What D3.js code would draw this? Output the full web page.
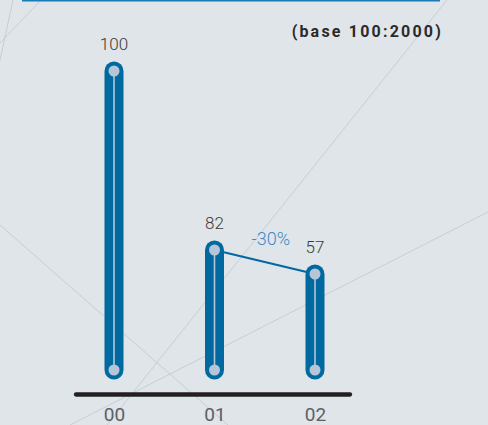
<!DOCTYPE html>
<html>
<head>
<meta charset="utf-8">
<script src="https://cdn.jsdelivr.net/npm/d3@7/dist/d3.min.js"></script>
<style>
  html, body { margin: 0; padding: 0; background: #e0e5e9; }
  svg { display: block; }
</style>
</head>
<body>
<script>
// ---- data ----
const categories = ["00", "01", "02"];
const values = [100, 82, 57];
const changeLabel = "-30%";
const baseNote = "(base 100:2000)";

const W = 488, H = 425;
const svg = d3.select("body").append("svg").attr("width", W).attr("height", H);

svg.append("rect").attr("width", W).attr("height", H).attr("fill", "#e0e5e9");

// decorative background lines
const deco = [
  [13, 0, 0, 60], [41, 0, 0, 43],
  [447, 0, 107, 425],
  [0, 225, 228, 425],
  [70, 425, 488, 212]
];
svg.append("g").selectAll("line").data(deco).join("line")
  .attr("x1", d => d[0]).attr("y1", d => d[1])
  .attr("x2", d => d[2]).attr("y2", d => d[3])
  .attr("stroke", "#c6cdd8").attr("stroke-width", 1);

// top blue rule
svg.append("rect").attr("x", 22).attr("y", -2).attr("width", 418).attr("height", 3.5)
  .attr("fill", "#1b7db8");

// base note
svg.append("text").attr("x", 443).attr("y", 37).attr("text-anchor", "end")
  .attr("font-family", "Roboto, sans-serif").attr("font-weight", 700)
  .attr("font-size", 16).attr("letter-spacing", 2.2).attr("fill", "#2a2a2a")
  .text(baseNote);

// scales (pictogram is not to scale; polylinear mapping reproduces it)
const x = d3.scalePoint().domain(categories).range([114, 315]);
const y = d3.scaleLinear().domain([0, 57, 82, 100]).range([370, 274, 250, 71]);

const barW = 19, r = barW / 2;
const data = categories.map((c, i) => ({ c, v: values[i] }));

const g = svg.append("g");
// bars
g.selectAll("rect.bar").data(data).join("rect").attr("class", "bar")
  .attr("x", d => x(d.c) - r).attr("y", d => y(d.v) - r)
  .attr("width", barW).attr("height", d => y(0) - y(d.v) + barW)
  .attr("rx", r).attr("ry", r).attr("fill", "#0069a0");
// inner lines
g.selectAll("line.inner").data(data).join("line").attr("class", "inner")
  .attr("x1", d => x(d.c)).attr("x2", d => x(d.c))
  .attr("y1", d => y(d.v)).attr("y2", y(0))
  .attr("stroke", "#b6c6d8").attr("stroke-width", 1.6);
// connector 01 -> 02
g.append("line")
  .attr("x1", x(categories[1])).attr("y1", y(values[1]))
  .attr("x2", x(categories[2])).attr("y2", y(values[2]))
  .attr("stroke", "#0069a0").attr("stroke-width", 2);
// dots
g.selectAll("circle.top").data(data).join("circle").attr("class", "top")
  .attr("cx", d => x(d.c)).attr("cy", d => y(d.v)).attr("r", 5.5).attr("fill", "#b6c6d8");
g.selectAll("circle.bot").data(data).join("circle").attr("class", "bot")
  .attr("cx", d => x(d.c)).attr("cy", y(0)).attr("r", 5.5).attr("fill", "#b6c6d8");

// value labels
g.selectAll("text.val").data(data).join("text").attr("class", "val")
  .attr("x", d => x(d.c)).attr("y", d => y(d.v) - 21)
  .attr("text-anchor", "middle").attr("font-family", "Roboto, sans-serif")
  .attr("font-weight", 300).attr("font-size", 17).attr("fill", "#3a3a3a")
  .text(d => d.v);

// change label
g.append("text")
  .attr("x", (x(categories[1]) + x(categories[2])) / 2 + 6)
  .attr("y", y(values[1]) - 5)
  .attr("text-anchor", "middle").attr("font-family", "Roboto, sans-serif")
  .attr("font-weight", 300).attr("font-size", 18).attr("fill", "#3a8cc6")
  .text(changeLabel);

// baseline axis
svg.append("line").attr("x1", 76).attr("x2", 350).attr("y1", 394.5).attr("y2", 394.5)
  .attr("stroke", "#231f20").attr("stroke-width", 4.3).attr("stroke-linecap", "round");

// x tick labels via axis
const axis = d3.axisBottom(x).tickSize(0).tickPadding(0);
const ax = svg.append("g").attr("transform", "translate(0,405)").call(axis);
ax.select(".domain").remove();
ax.selectAll("text").attr("dy", "0.71em").attr("y", 2)
  .attr("font-family", "Roboto, sans-serif").attr("font-size", 19)
  .attr("font-weight", 400).attr("fill", "#5b6066");
</script>
</body>
</html>
